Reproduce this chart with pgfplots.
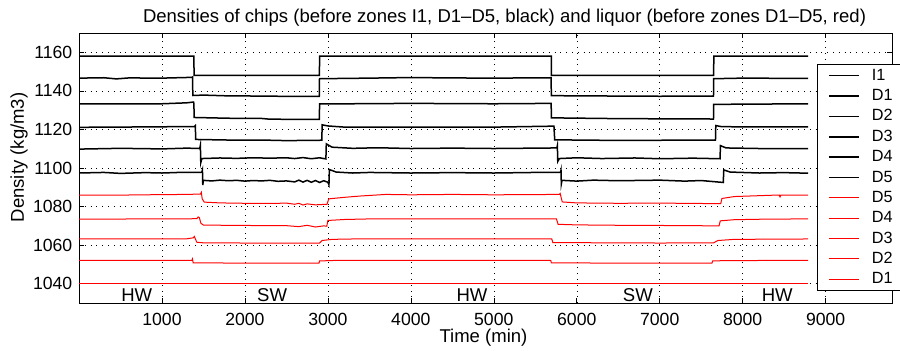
\documentclass[border=0pt]{standalone}
\usepackage{fontspec}
\setmainfont{Liberation Sans}
\usepackage{pgfplots}
\pgfplotsset{compat=1.18}
\newcommand{\fs}{\fontsize{17.7}{20}\selectfont}
\newcommand{\lfs}{\fontsize{18.6}{22}\selectfont}
\newcommand{\gfs}{\fontsize{16.3}{19}\selectfont}
\pgfplotsset{
  mylegimg/.style={legend image code/.code={\draw[##1] (0bp,0bp) -- (30bp,0bp);}},
}
\begin{document}
\begin{tikzpicture}[x=1bp,y=1bp]
\path[use as bounding box] (0,0) rectangle (900,350);
\begin{axis}[
  at={(79bp,47bp)}, anchor=south west,
  scale only axis, width=813bp, height=270bp,
  xmin=0, xmax=9800, ymin=1030, ymax=1170,
  xtick={1000,2000,...,9000}, ytick={1040,1060,...,1160},
  /pgf/number format/assume math mode=true,
  scaled x ticks=false,
  xticklabel style={font=\fs, anchor=north, inner sep=0pt, yshift=-10.3bp, /pgf/number format/1000 sep={}},
  yticklabel style={font=\fs, anchor=east, inner sep=0pt, xshift=-6.5bp, /pgf/number format/1000 sep={}},
  major tick length=5bp, tick align=inside, tick style={black, line width=0.6bp},
  axis line style={line width=0.8bp},
  grid=major, major grid style={black, line width=0.5bp, dash pattern=on 0.8bp off 5bp},
  title={Densities of chips (before zones I1, D1\textendash D5, black) and liquor (before zones D1\textendash D5, red)},
  title style={font=\lfs, at={(axis description cs:0.5234,1.0185)}, anchor=base, inner sep=0pt},
  xlabel={Time (min)},
  xlabel style={font=\lfs, at={(axis description cs:0.4975,-0.148)}, anchor=base, inner sep=0pt},
  ylabel={Density (kg/m3)},
  ylabel style={font=\lfs, at={(axis description cs:-0.0677,0.539)}, anchor=base, inner sep=0pt},
  mylegimg,
  legend style={at={(axis description cs:0.9081,0.8852)}, anchor=north west, font=\gfs,
    inner xsep=10.4bp, inner ysep=3.8bp, row sep=5.36bp, line width=0.8bp,
    nodes={inner sep=0pt, text height=12bp, text depth=3bp},
    /tikz/every odd column/.append style={column sep=12.3bp}},
  legend cell align=left,
]
% I1
\addplot[black, line width=1.5bp] coordinates {(0,1158) (1385,1158) (1387,1148) (2898,1148) (2900,1158) (5693,1158) (5695,1148) (7650,1148) (7652,1158) (8790,1158)};
\addlegendentry{I1}
% D1 chips
\addplot[black, line width=1.5bp] coordinates {(0,1146.6) (300,1146.8) (450,1146.2) (600,1146.7) (1000,1146.6) (1360,1147) (1369,1147.2) (1372,1137.6) (1500,1137.8) (1800,1137.4) (2200,1137.3) (2600,1137.1) (2896,1137.2) (2899,1146.3) (3500,1146.6) (4000,1146.9) (4500,1146.7) (5000,1146.6) (5690,1146.8) (5694,1137.5) (6500,1137.3) (7000,1137.2) (7648,1137.3) (7651,1146.3) (8000,1146.6) (8500,1146.5) (8790,1146.5)};
\addlegendentry{D1}
% D2 chips
\addplot[black, line width=1.5bp] coordinates {(0,1133.2) (1000,1133.3) (1300,1133.8) (1380,1134.2) (1385,1133.5) (1388,1126.2) (1800,1125.8) (2200,1125.7) (2300,1125.3) (2897,1125.2) (2900,1133.2) (4000,1133.5) (5000,1133.3) (5691,1133.5) (5695,1126) (6500,1125.6) (7648,1125.4) (7651,1133) (8790,1133.3)};
\addlegendentry{D2}
% D3 chips
\addplot[black, line width=1.5bp] coordinates {(0,1121.1) (800,1121.3) (1390,1121.5) (1402,1122) (1407,1114.8) (1800,1114.5) (2300,1114.4) (2500,1114.2) (2927,1114.4) (2931,1122.4) (3000,1121.8) (3200,1121.2) (5000,1121.2) (5725,1121.7) (5734,1114.6) (6500,1114.3) (7672,1114.5) (7676,1122) (7750,1121.4) (8790,1121.3)};
\addlegendentry{D3}
% D4 chips
\addplot[black, line width=1.5bp] coordinates {(0,1109.8) (500,1110.2) (1000,1109.9) (1300,1110.3) (1455,1110.1) (1463,1111.8) (1468,1102.8) (1480,1104.9) (1700,1105.2) (1900,1105) (2100,1105.3) (2300,1105.1) (2500,1105.3) (2600,1104.9) (2700,1105.4) (2800,1104.8) (2900,1105.3) (2976,1104.7) (2981,1112.5) (3050,1110.8) (3300,1110.2) (3600,1110.5) (4000,1110.1) (4500,1110.3) (5000,1110.1) (5500,1110.3) (5760,1110.4) (5766,1111.6) (5771,1103.4) (5790,1104.9) (6000,1105.3) (6300,1104.9) (6700,1105.2) (7000,1104.8) (7400,1105.1) (7727,1104.8) (7732,1111.6) (7800,1110.4) (8200,1110.1) (8790,1110)};
\addlegendentry{D4}
% D5 chips
\addplot[black, line width=1.5bp] coordinates {(0,1097.4) (300,1097.7) (500,1097.2) (800,1097.6) (1000,1097.4) (1200,1097.7) (1480,1097.8) (1488,1099) (1492,1091.2) (1500,1093.6) (1600,1093.3) (1700,1093.7) (1800,1093.4) (1900,1093.6) (2000,1093.2) (2100,1093.5) (2200,1093.3) (2300,1093.6) (2400,1093.1) (2500,1093.3) (2600,1092.8) (2650,1093.7) (2700,1092.7) (2750,1093.6) (2800,1092.6) (2850,1093.5) (2900,1092.5) (2950,1093.4) (3000,1092.6) (3013,1091.3) (3018,1099.2) (3100,1097.9) (3300,1097.4) (3500,1097.7) (4000,1097.4) (4500,1097.6) (5000,1097.4) (5500,1097.7) (5805,1097.8) (5810,1098.8) (5814,1091.8) (5822,1093.6) (6000,1093.2) (6200,1093.7) (6500,1093.4) (7000,1093.7) (7300,1093.2) (7500,1093.5) (7766,1092.5) (7772,1099) (7850,1097.9) (8200,1097.4) (8500,1097.6) (8790,1097.3)};
\addlegendentry{D5}
% D5 liquor
\addplot[red, line width=1bp] coordinates {(0,1085.9) (600,1086) (1000,1086.2) (1300,1086.3) (1465,1086.5) (1475,1087.4) (1485,1084) (1510,1082.3) (1700,1081.9) (2000,1081.7) (2300,1081.6) (2500,1081.8) (2600,1081.2) (2650,1081.7) (2700,1080.8) (2750,1081.4) (2850,1080.9) (2990,1081.2) (3010,1084) (3200,1084.8) (3400,1085.5) (3700,1086.3) (4000,1086.1) (4500,1086.3) (5000,1086.1) (5790,1086.3) (5800,1086.8) (5825,1082.4) (6000,1081.9) (6500,1081.7) (7000,1081.8) (7500,1081.6) (7735,1081.5) (7750,1084.2) (7900,1085.2) (8300,1085.8) (8440,1086) (8450,1085) (8460,1086) (8790,1086)};
\addlegendentry{D5}
% D4 liquor
\addplot[red, line width=1bp] coordinates {(0,1073.5) (1000,1073.6) (1420,1073.7) (1436,1074.6) (1450,1074.3) (1470,1071.3) (1500,1070.4) (2000,1070.2) (2500,1070.1) (2650,1069.6) (2750,1070.3) (2850,1069.4) (2950,1070) (2987,1069.8) (3000,1072.8) (3200,1073.3) (3500,1073.6) (5000,1073.6) (5755,1073.6) (5775,1070.8) (6000,1070.5) (6500,1070.3) (7000,1070.2) (7715,1070) (7730,1072.6) (7900,1073.2) (8300,1073.5) (8790,1073.6)};
\addlegendentry{D4}
% D3 liquor
\addplot[red, line width=1bp] coordinates {(0,1063.2) (1000,1063.3) (1300,1063.3) (1378,1063.8) (1390,1064.5) (1420,1061.5) (1500,1061.2) (2000,1061.1) (2500,1061.1) (2900,1061.1) (2930,1062.4) (3050,1063) (3300,1063.2) (5000,1063.3) (5698,1063.3) (5712,1061.3) (6500,1061.2) (7000,1061.1) (7650,1061.2) (7700,1062.4) (7900,1063) (8790,1063.2)};
\addlegendentry{D3}
% D2 liquor
\addplot[red, line width=1bp] coordinates {(0,1052.1) (1360,1052.1) (1368,1052.9) (1376,1050.8) (2000,1050.7) (2893,1050.7) (2900,1051.8) (3100,1052.1) (5686,1052.1) (5694,1050.8) (6500,1050.7) (7630,1050.7) (7638,1051.8) (7800,1052) (8790,1052.1)};
\addlegendentry{D2}
% D1 liquor
\addplot[red, line width=1bp] coordinates {(0,1040) (8790,1040)};
\addlegendentry{D1}
\node[font=\lfs, anchor=base] at (axis cs:696,1031) {HW};
\node[font=\lfs, anchor=base] at (axis cs:2328,1031) {SW};
\node[font=\lfs, anchor=base] at (axis cs:4737,1031) {HW};
\node[font=\lfs, anchor=base] at (axis cs:6737,1031) {SW};
\node[font=\lfs, anchor=base] at (axis cs:8416,1031) {HW};
\end{axis}
\end{tikzpicture}
\end{document}
